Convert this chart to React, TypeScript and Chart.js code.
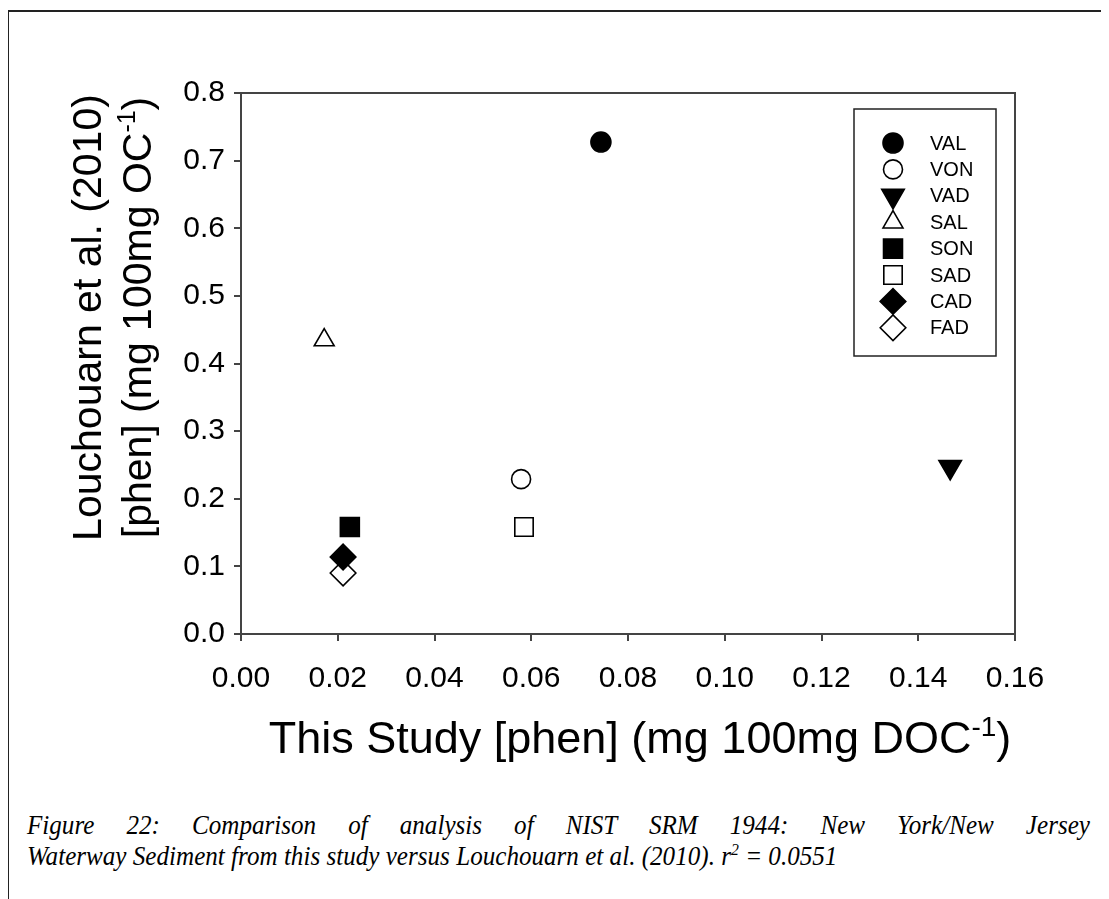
import React, { useEffect, useRef } from 'react';
import { Chart, registerables } from 'chart.js';
import { drawPoint } from 'chart.js/helpers';

Chart.register(...registerables);

// ---- Data ----
const sampleNames = ['VAL', 'VON', 'VAD', 'SAL', 'SON', 'SAD', 'CAD', 'FAD'];
const thisStudyPhen = [0.0744, 0.0579, 0.1466, 0.0172, 0.0225, 0.0585, 0.0211, 0.0211];
const louchouarnPhen = [0.7275, 0.229, 0.247, 0.4347, 0.1582, 0.1582, 0.1139, 0.0902];
const xTickValues = [0, 0.02, 0.04, 0.06, 0.08, 0.1, 0.12, 0.14, 0.16];
const yTickValues = [0, 0.1, 0.2, 0.3, 0.4, 0.5, 0.6, 0.7, 0.8];

type Seg = { t: string; sup?: boolean };
const xAxisTitle: Seg[] = [{ t: 'This Study [phen] (mg 100mg DOC' }, { t: '-1', sup: true }, { t: ')' }];
const yAxisTitleLine1: Seg[] = [{ t: 'Louchouarn et al. (2010)' }];
const yAxisTitleLine2: Seg[] = [{ t: '[phen] (mg 100mg OC' }, { t: '-1', sup: true }, { t: ')' }];
const captionLine1 = 'Figure 22: Comparison of analysis of NIST SRM 1944: New York/New Jersey';
const captionLine2a = 'Waterway Sediment from this study versus Louchouarn et al. (2010). r';
const captionSup = '2';
const captionLine2b = ' = 0.0551';

// ---- Styles ----
const markerStyles = [
  { pointStyle: 'circle', filled: true, radius: 10, rotation: 0 },
  { pointStyle: 'circle', filled: false, radius: 9.5, rotation: 0 },
  { pointStyle: 'triangle', filled: true, radius: 13, rotation: 180 },
  { pointStyle: 'triangle', filled: false, radius: 11.5, rotation: 0 },
  { pointStyle: 'rect', filled: true, radius: 13.4, rotation: 0 },
  { pointStyle: 'rect', filled: false, radius: 13, rotation: 0 },
  { pointStyle: 'rectRot', filled: true, radius: 12.8, rotation: 0 },
  { pointStyle: 'rectRot', filled: false, radius: 12.8, rotation: 0 },
];

const FONT = '"Liberation Sans", Arial, sans-serif';
const AXIS_COLOR = '#444';
const X_TITLE_SIZE = 45;
const Y_TITLE_SIZE = 41;
const TICK_SIZE = 30;

function drawRich(ctx: CanvasRenderingContext2D, segs: Seg[], cx: number, cy: number, size: number) {
  const supSize = Math.round(size * 0.62);
  let total = 0;
  const widths = segs.map((s) => {
    ctx.font = `${s.sup ? supSize : size}px ${FONT}`;
    const w = ctx.measureText(s.t).width;
    total += w;
    return w;
  });
  let x = cx - total / 2;
  ctx.textAlign = 'left';
  ctx.textBaseline = 'alphabetic';
  const baseY = cy + size * 0.36;
  segs.forEach((s, i) => {
    ctx.font = `${s.sup ? supSize : size}px ${FONT}`;
    ctx.fillText(s.t, x, s.sup ? baseY - size * 0.38 : baseY);
    x += widths[i];
  });
}

const decorPlugin = {
  id: 'decor',
  afterDraw(chart: any) {
    const { ctx, chartArea } = chart;
    ctx.save();
    // plot frame
    ctx.strokeStyle = AXIS_COLOR;
    ctx.lineWidth = 2;
    ctx.strokeRect(chartArea.left, chartArea.top, chartArea.right - chartArea.left, chartArea.bottom - chartArea.top);

    // axis titles
    ctx.fillStyle = '#000';
    const cx = (chartArea.left + chartArea.right) / 2;
    drawRich(ctx, xAxisTitle, cx + 12, 737, X_TITLE_SIZE);
    const cy = (chartArea.top + chartArea.bottom) / 2;
    ctx.save();
    ctx.translate(86, cy - 46);
    ctx.rotate(-Math.PI / 2);
    drawRich(ctx, yAxisTitleLine1, 0, 0, Y_TITLE_SIZE);
    ctx.restore();
    ctx.save();
    ctx.translate(136, cy - 46);
    ctx.rotate(-Math.PI / 2);
    drawRich(ctx, yAxisTitleLine2, 0, 0, Y_TITLE_SIZE);
    ctx.restore();

    // legend
    const lx = 854, ly = 109, lw = 142, lh = 247;
    ctx.strokeStyle = '#222';
    ctx.lineWidth = 1.5;
    ctx.fillStyle = '#fff';
    ctx.fillRect(lx, ly, lw, lh);
    ctx.strokeRect(lx, ly, lw, lh);
    sampleNames.forEach((name, i) => {
      const st = markerStyles[i];
      const y = 143 + i * 26.4;
      ctx.fillStyle = st.filled ? '#000' : '#fff';
      ctx.strokeStyle = '#000';
      ctx.lineWidth = 1.6;
      drawPoint(ctx, { pointStyle: st.pointStyle, radius: st.radius, rotation: st.rotation, borderWidth: 1.6 } as any, 893, y);
      ctx.fillStyle = '#000';
      ctx.font = `20px ${FONT}`;
      ctx.textAlign = 'left';
      ctx.textBaseline = 'middle';
      ctx.fillText(name, 930, y + 1);
    });
    ctx.restore();
  },
};

export default function App() {
  const canvasRef = useRef<HTMLCanvasElement | null>(null);

  useEffect(() => {
    const canvas = canvasRef.current;
    if (!canvas) return;
    const datasets = sampleNames.map((name, i) => {
      const st = markerStyles[i];
      return {
        label: name,
        data: [{ x: thisStudyPhen[i], y: louchouarnPhen[i] }],
        pointStyle: st.pointStyle as any,
        pointRadius: st.radius,
        pointRotation: st.rotation,
        pointBackgroundColor: st.filled ? '#000' : '#fff',
        pointBorderColor: '#000',
        pointBorderWidth: 1.6,
        showLine: false,
      };
    });
    const chart = new Chart(canvas, {
      type: 'scatter',
      data: { datasets },
      plugins: [decorPlugin],
      options: {
        animation: false,
        responsive: false,
        devicePixelRatio: 1,
        layout: { padding: { left: 0, top: 93, right: 94, bottom: 0 } },
        plugins: { legend: { display: false }, tooltip: { enabled: false }, title: { display: false } },
        scales: {
          x: {
            type: 'linear',
            min: xTickValues[0],
            max: xTickValues[xTickValues.length - 1],
            afterBuildTicks: (scale: any) => {
              scale.ticks = xTickValues.map((v) => ({ value: v }));
            },
            afterFit: (scale: any) => {
              scale.height = 780 - 634;
            },
            ticks: {
              color: '#000',
              font: { family: FONT, size: TICK_SIZE },
              padding: 20,
              maxRotation: 0,
              callback: (v: any) => Number(v).toFixed(2),
            },
            grid: { drawOnChartArea: false, drawTicks: true, tickLength: 7, color: AXIS_COLOR, lineWidth: 2 },
            border: { display: true, color: AXIS_COLOR, width: 2 },
          },
          y: {
            type: 'linear',
            min: yTickValues[0],
            max: yTickValues[yTickValues.length - 1],
            afterBuildTicks: (scale: any) => {
              scale.ticks = yTickValues.map((v) => ({ value: v }));
            },
            afterFit: (scale: any) => {
              scale.width = 241;
            },
            ticks: {
              color: '#000',
              font: { family: FONT, size: TICK_SIZE },
              padding: 9,
              callback: (v: any) => Number(v).toFixed(1),
            },
            grid: { drawOnChartArea: false, drawTicks: true, tickLength: 7, color: AXIS_COLOR, lineWidth: 2 },
            border: { display: true, color: AXIS_COLOR, width: 2 },
          },
        },
      },
    });
    return () => chart.destroy();
  }, []);

  const capScale = 0.93;
  return (
    <div style={{ position: 'relative', width: 1109, height: 899 }}>
      <div
        style={{
          position: 'absolute',
          left: 7 - 8,
          top: 10 - 8,
          width: 1102,
          height: 889,
          borderLeft: '2px solid #222',
          borderTop: '2px solid #222',
          boxSizing: 'border-box',
        }}
      />
      <canvas
        ref={canvasRef}
        width={1109}
        height={780}
        style={{ position: 'absolute', left: -8, top: -8, width: 1109, height: 780 }}
      />
      <div
        style={{
          position: 'absolute',
          left: 27 - 8,
          top: 810 - 8,
          width: Math.round(1063 / capScale),
          transform: `scaleX(${capScale})`,
          transformOrigin: 'left top',
          fontFamily: '"Liberation Serif", "Times New Roman", serif',
          fontStyle: 'italic',
          fontSize: 27,
          lineHeight: '31px',
          color: '#000',
        }}
      >
        <div style={{ textAlign: 'justify', textAlignLast: 'justify' }}>{captionLine1}</div>
        <div style={{ whiteSpace: 'nowrap' }}>
          {captionLine2a}
          <sup style={{ fontSize: 17, lineHeight: 0 }}>{captionSup}</sup>
          {captionLine2b}
        </div>
      </div>
    </div>
  );
}
